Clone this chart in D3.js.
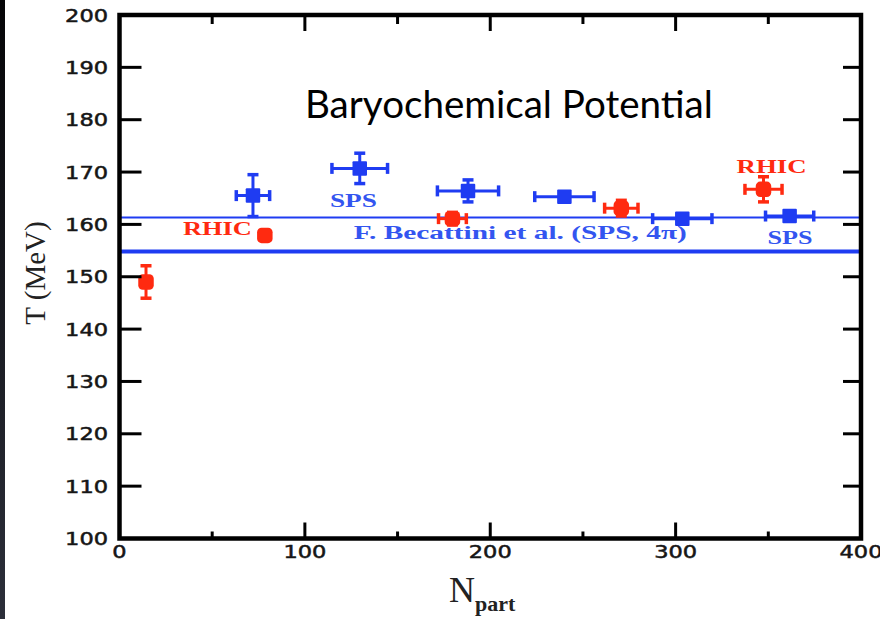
<!DOCTYPE html>
<html>
<head>
<meta charset="utf-8">
<script src="https://cdn.jsdelivr.net/npm/d3@7/dist/d3.min.js"></script>
<style>
  html, body { margin: 0; padding: 0; background: #fff; }
  svg { display: block; }
</style>
</head>
<body>
<svg id="chart" width="880" height="619"></svg>
<script>
// ---------------- data ----------------
const xTicksMajor = [0, 100, 200, 300, 400];
const xTicksMinor = [50, 150, 250, 350];
const yTicks = [100, 110, 120, 130, 140, 150, 160, 170, 180, 190, 200];

// SPS (blue)
const spsNpart = [72, 129.6, 188, 240, 303.6, 361.5];
const spsT     = [165.5, 170.7, 166.4, 165.3, 161.1, 161.6];
const spsNErr  = [9, 15, 16.5, 16, 16, 13];
const spsTErr  = [4, 2.9, 2.1, 0, 0, 0];

// RHIC (red)
const rhicNpart = [14.3, 78.4, 179.6, 270.7, 347.4];
const rhicT     = [149.0, 157.9, 161.1, 163.1, 166.7];
const rhicNErr  = [0, 0, 7.5, 9, 10];
const rhicTErr  = [3.1, 0, 1.2, 1.5, 2.4];

// reference lines (T in MeV)
const refLineThin  = [161.3];
const refLineThick = [154.8];

// annotations: text, Npart (left edge), T (baseline), series
const annoText   = ["SPS", "SPS", "RHIC", "RHIC", "F. Becattini et al.  (SPS, 4\u03c0)"];
const annoNpart  = [113.5, 349.6, 34.2, 332.9, 126.4];
const annoT      = [163.3, 156.3, 158.0, 169.8, 157.2];
const annoSeries = ["sps", "sps", "rhic", "rhic", "sps"];

const titleText = "Baryochemical Potential";
const xLabel = "N";
const xLabelSub = "part";
const yLabel = "T (MeV)";

// ---------------- drawing ----------------
(function () {
const BLUE = "#1f3cf2";
const RED = "#ff2a10";
const svg = d3.select("#chart");

// dark left strip
const grad = svg.append("defs").append("linearGradient")
  .attr("id", "strip").attr("x1", 0).attr("y1", 0).attr("x2", 0).attr("y2", 1);
grad.append("stop").attr("offset", "0%").attr("stop-color", "#050507");
grad.append("stop").attr("offset", "100%").attr("stop-color", "#2c2f3a");
svg.append("rect").attr("x", 0).attr("y", 0).attr("width", 5).attr("height", 619)
  .attr("fill", "url(#strip)");

const pL = 119.5, pR = 861, pT = 15, pB = 538.5;
const x = d3.scaleLinear().domain([0, 400]).range([pL, pR]);
const y = d3.scaleLinear().domain([100, 200]).range([pB, pT]);

// reference lines
const g = svg.append("g");
g.selectAll(".thin").data(refLineThin).enter().append("line")
  .attr("x1", pL).attr("x2", pR)
  .attr("y1", d => y(d)).attr("y2", d => y(d))
  .attr("stroke", BLUE).attr("stroke-width", 2);
g.selectAll(".thick").data(refLineThick).enter().append("line")
  .attr("x1", pL).attr("x2", pR)
  .attr("y1", d => y(d)).attr("y2", d => y(d))
  .attr("stroke", BLUE).attr("stroke-width", 4);

// annotations
const widths = [47, 45, 69, 70, 333];
annoText.forEach((t, i) => {
  svg.append("text")
    .attr("x", x(annoNpart[i]))
    .attr("y", y(annoT[i]))
    .attr("font-family", "'Liberation Serif', 'DejaVu Serif', serif")
    .attr("font-weight", "bold")
    .attr("font-size", 18.5)
    .attr("fill", annoSeries[i] === "sps" ? "#3355f0" : RED)
    .attr("textLength", widths[i]).attr("lengthAdjust", "spacingAndGlyphs")
    .text(t);
});

// error bars + markers
function drawSeries(N, T, NE, TE, color, rounded, size) {
  const grp = svg.append("g");
  const cap = 5.5;
  N.forEach((n, i) => {
    const cx = x(n), cy = y(T[i]);
    if (NE[i] > 0) {
      const x0 = x(n - NE[i]), x1 = x(n + NE[i]);
      grp.append("line").attr("x1", x0).attr("x2", x1).attr("y1", cy).attr("y2", cy)
        .attr("stroke", color).attr("stroke-width", 3);
      [x0, x1].forEach(xx => grp.append("line").attr("x1", xx).attr("x2", xx)
        .attr("y1", cy - cap).attr("y2", cy + cap).attr("stroke", color).attr("stroke-width", 3.5));
    }
    if (TE[i] > 0) {
      const y0 = y(T[i] - TE[i]), y1 = y(T[i] + TE[i]);
      grp.append("line").attr("x1", cx).attr("x2", cx).attr("y1", y0).attr("y2", y1)
        .attr("stroke", color).attr("stroke-width", 3);
      [y0, y1].forEach(yy => grp.append("line").attr("y1", yy).attr("y2", yy)
        .attr("x1", cx - cap).attr("x2", cx + cap).attr("stroke", color).attr("stroke-width", 3.5));
    }
    grp.append("rect").attr("x", cx - size / 2).attr("y", cy - size / 2)
      .attr("width", size).attr("height", size)
      .attr("rx", rounded ? 4.5 : 1).attr("fill", color);
  });
}
drawSeries(spsNpart, spsT, spsNErr, spsTErr, BLUE, false, 14.5);
drawSeries(rhicNpart, rhicT, rhicNErr, rhicTErr, RED, true, 15.5);

// frame
svg.append("rect").attr("x", pL).attr("y", pT)
  .attr("width", pR - pL).attr("height", pB - pT)
  .attr("fill", "none").attr("stroke", "#000").attr("stroke-width", 4.5);

// ticks
const tk = svg.append("g").attr("stroke", "#000");
yTicks.filter(d => d > 100 && d < 200).forEach(d => {
  tk.append("line").attr("x1", pL).attr("x2", pL + 22).attr("y1", y(d)).attr("y2", y(d)).attr("stroke-width", 3);
  tk.append("line").attr("x1", pR - 18).attr("x2", pR).attr("y1", y(d)).attr("y2", y(d)).attr("stroke-width", 3);
});
xTicksMajor.filter(d => d > 0 && d < 400).forEach(d => {
  tk.append("line").attr("x1", x(d)).attr("x2", x(d)).attr("y1", pB).attr("y2", pB - 16).attr("stroke-width", 3);
  tk.append("line").attr("x1", x(d)).attr("x2", x(d)).attr("y1", pT).attr("y2", pT + 16).attr("stroke-width", 3);
});
xTicksMinor.forEach(d => {
  tk.append("line").attr("x1", x(d)).attr("x2", x(d)).attr("y1", pB).attr("y2", pB - 7).attr("stroke-width", 3);
  tk.append("line").attr("x1", x(d)).attr("x2", x(d)).attr("y1", pT).attr("y2", pT + 9).attr("stroke-width", 3);
});

// tick labels
const tickFont = "'DejaVu Sans', Verdana, sans-serif";
yTicks.forEach(d => {
  const s = String(d);
  svg.append("text").attr("x", 108).attr("y", y(d) + 6.5)
    .attr("text-anchor", "end").attr("font-family", tickFont).attr("font-size", 17)
    .attr("fill", "#161616").attr("stroke", "#161616").attr("stroke-width", 0.5)
    .attr("textLength", 14.3 * s.length).attr("lengthAdjust", "spacingAndGlyphs")
    .text(s);
});
xTicksMajor.forEach(d => {
  const s = String(d);
  svg.append("text").attr("x", x(d)).attr("y", 558)
    .attr("text-anchor", "middle").attr("font-family", tickFont).attr("font-size", 17)
    .attr("fill", "#161616").attr("stroke", "#161616").attr("stroke-width", 0.5)
    .attr("textLength", 14.3 * s.length).attr("lengthAdjust", "spacingAndGlyphs")
    .text(s);
});

// axis titles
svg.append("text").attr("transform", "translate(45,273) rotate(-90)")
  .attr("text-anchor", "middle").attr("font-family", "'Liberation Serif', 'DejaVu Serif', serif")
  .attr("font-size", 29).attr("fill", "#222").text(yLabel);

const xt = svg.append("text").attr("x", 449).attr("y", 602)
  .attr("font-family", "'Liberation Serif', 'DejaVu Serif', serif").attr("fill", "#222");
xt.append("tspan").attr("font-size", 36).text(xLabel);
xt.append("tspan").attr("font-size", 22).attr("font-weight", "bold").attr("dy", 9).text(xLabelSub);

// title
const title = svg.append("text").attr("x", 305).attr("y", 118)
  .attr("font-family", "Lato, 'Open Sans', sans-serif").attr("font-size", 32)
  .attr("fill", "#000").text(titleText);
const w = title.node().getComputedTextLength();
title.attr("font-size", 32 * 408 / w);
})();
</script>
</body>
</html>
